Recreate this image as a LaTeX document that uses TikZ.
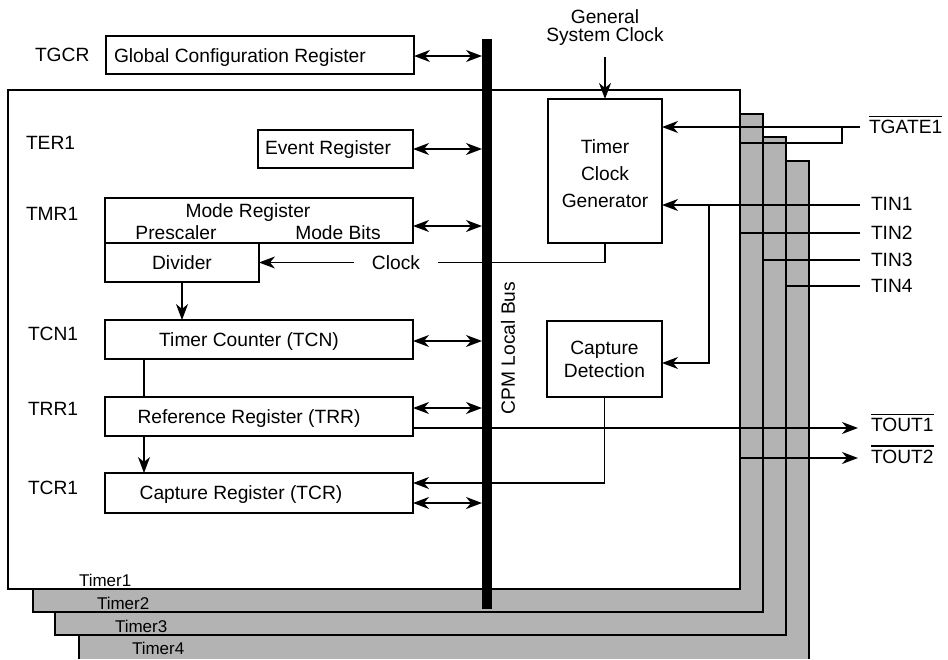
\documentclass[tikz,border=0pt]{standalone}
\usepackage{fontspec}
\setmainfont{Liberation Sans}
\usetikzlibrary{arrows.meta,calc}
\definecolor{stackgray}{RGB}{179,179,179}
\begin{document}
\begin{tikzpicture}[x=1pt,y=-1pt,
  every node/.style={inner sep=0pt,outer sep=0pt},
  txt/.style={font=\fontsize{19.2}{23}\selectfont,text height=13.75pt,text depth=0pt},
  small/.style={font=\fontsize{17}{20}\selectfont,text height=12.2pt,text depth=0pt},
  box/.style={draw,line width=1.6pt,fill=white},
  frame/.style={draw,line width=1.6pt},
  wire/.style={line width=1.3pt},
  ovl/.style={line width=1.2pt},
  >={Stealth[length=16pt,width=12pt,inset=5pt]}]
\useasboundingbox (0,0) rectangle (948,659);

% timer stack
\fill[stackgray] (79,161) rectangle (809,659);
\draw[line width=1.6pt] (79,659) -- (79,161) -- (809,161) -- (809,659);
\node[frame,fill=stackgray,minimum width=731pt,minimum height=498pt] (t3) at (420.5,386) {};
\node[frame,fill=stackgray,minimum width=730pt,minimum height=498pt] (t2) at (398,363) {};
\node[frame,fill=white,minimum width=732pt,minimum height=499pt] (t1) at (374,339.5) {};
\node[small,anchor=west] (l1) at (79,580) {Timer1};
\node[small,anchor=west] (l2) at (97,603) {Timer2};
\node[small,anchor=west] (l3) at (115,626.3) {Timer3};
\node[small,anchor=west] (l4) at (132,648.3) {Timer4};

% bus
\node[fill=black,minimum width=10pt,minimum height=570pt] (bus) at (487,324) {};
\node[txt,rotate=90] (cpm) at (508,348) {CPM Local Bus};

% register labels
\node[txt,anchor=west] (tgcrl) at (35,54.5) {TGCR};
\node[txt,anchor=west] (terl) at (26,143) {TER1};
\node[txt,anchor=west] (tmrl) at (26,214) {TMR1};
\node[txt,anchor=west] (tcnl) at (28,333.3) {TCN1};
\node[txt,anchor=west] (trrl) at (28,408.8) {TRR1};
\node[txt,anchor=west] (tcrl) at (28,487.3) {TCR1};

% boxes
\node[box,minimum width=308pt,minimum height=38pt] (gcr) at (260,55) {};
\node[txt,anchor=west] (gcrt) at (114,55.5) {Global Configuration Register};
\node[box,minimum width=155pt,minimum height=38pt] (evt) at (335.5,149) {};
\node[txt,anchor=west] (evtt) at (265,148) {Event Register};
\node[box,minimum width=308pt,minimum height=45pt] (mr) at (259,220.5) {};
\node[txt] (mrt) at (248,211) {Mode Register};
\node[txt] (pre) at (176,232.5) {Prescaler};
\node[txt] (mb) at (338,232.5) {Mode Bits};
\node[box,txt,minimum width=154pt,minimum height=39pt] (div) at (182,262.5) {Divider};
\node[box,minimum width=308pt,minimum height=39pt] (tcn) at (259,339.5) {};
\node[txt] (tcnt) at (249,340) {Timer Counter (TCN)};
\node[box,minimum width=308pt,minimum height=39pt] (trr) at (259,416.5) {};
\node[txt] (trrt) at (249,417) {Reference Register (TRR)};
\node[box,minimum width=308pt,minimum height=40pt] (tcr) at (259,493) {};
\node[txt] (tcrt) at (241,493) {Capture Register (TCR)};

\node[box,minimum width=114pt,minimum height=144pt] (tcg) at (605,171) {};
\node[align=center,font=\fontsize{19.2}{27.3}\selectfont] (tcgt) at (605,173.5) {Timer\\Clock\\Generator};
\node[box,minimum width=115pt,minimum height=76pt,align=center,
  font=\fontsize{19.2}{23}\selectfont] (cap) at (604.5,359) {Capture\\Detection};
\node[align=center,font=\fontsize{19.2}{18}\selectfont] (gsc) at (605,28) {General\\System Clock};
\node[txt,inner xsep=18pt] (clk) at (396,262.5) {Clock};

% bus connections
\draw[<->,wire] ([yshift=-1pt]gcr.east) -- ([yshift=-1pt]gcr.east -| bus.west);
\draw[<->,wire] (evt.east) -- (evt.east -| bus.west);
\draw[<->,wire] ([yshift=-5.5pt]mr.east) -- ([yshift=-5.5pt]mr.east -| bus.west);
\draw[<->,wire] ([yshift=-1.5pt]tcn.east) -- ([yshift=-1.5pt]tcn.east -| bus.west);
\draw[<->,wire] ([yshift=8.5pt]trr.east) -- ([yshift=8.5pt]trr.east -| bus.west);
\draw[<->,wire] ([yshift=-10pt]tcr.east) -- ([yshift=-10pt]tcr.east -| bus.west);

% internal flow
\draw[->,wire] ([yshift=-11pt]gsc.south) -- (tcg.north);
\draw[wire] (tcg.south) |- (clk.east);
\draw[->,wire] (clk.west) -- (div.east);
\draw[->,wire] (div.south) -- (div.south |- tcn.north);
\draw[wire] ($(tcn.south west)+(39,0)$) -- ($(trr.north west)+(39,0)$);
\draw[->,wire] ($(trr.south west)+(39,0)$) -- ($(tcr.north west)+(39,0)$);
\draw[->,wire] (cap.south) |- ([yshift=10pt]tcr.east);

% external signals
\coordinate (gR) at (860,127);
\coordinate (gB) at (842,127);
\coordinate (gD) at (842,143);
\draw[->,wire] (gR) -- (gR -| tcg.east);
\draw[wire] (gB) -- (gD) -- (gD -| t1.east);
\node[txt,anchor=west] (tg) at (869,126.5) {TGATE1};
\draw[ovl] ([yshift=3.5pt]tg.north west) -- ([yshift=3.5pt]tg.north east);

\coordinate (i1) at (860,205);
\coordinate (i1b) at (709,205);
\coordinate (i2) at (860,233);
\coordinate (i3) at (860,260);
\coordinate (i4) at (860,286);
\draw[->,wire] (i1) -- (i1 -| tcg.east);
\draw[->,wire] (i1b) |- ([yshift=-4pt]cap.east);
\draw[wire] (i2) -- (i2 -| t1.east);
\draw[wire] (i3) -- (i3 -| t2.east);
\draw[wire] (i4) -- (i4 -| t3.east);
\node[txt,anchor=west] (tin1) at (871,204) {TIN1};
\node[txt,anchor=west] (tin2) at (871,232.5) {TIN2};
\node[txt,anchor=west] (tin3) at (871,260) {TIN3};
\node[txt,anchor=west] (tin4) at (871,285.5) {TIN4};

\coordinate (o1) at (858,428);
\coordinate (o2) at (858,458);
\draw[->,wire] ([yshift=-11.5pt]trr.east) -- (o1);
\draw[->,wire] (o2 -| t1.east) -- (o2);
\node[txt,anchor=west] (to1) at (871,425) {TOUT1};
\draw[ovl] ([yshift=3.5pt]to1.north west) -- ([yshift=3.5pt]to1.north east);
\node[txt,anchor=west] (to2) at (871,456.3) {TOUT2};
\draw[ovl] ([yshift=3.5pt]to2.north west) -- ([yshift=3.5pt]to2.north east);
\end{tikzpicture}
\end{document}
